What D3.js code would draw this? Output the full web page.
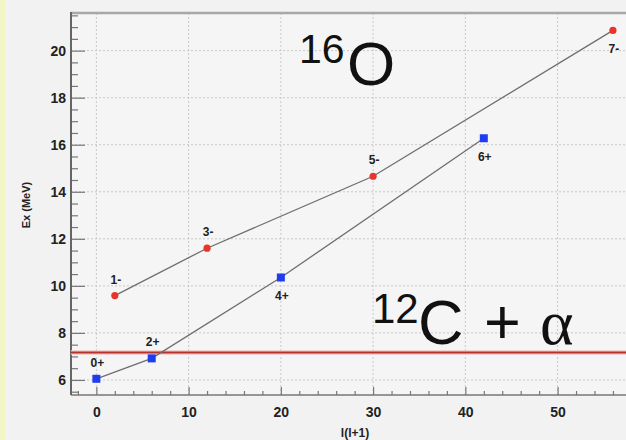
<!DOCTYPE html>
<html>
<head>
<meta charset="utf-8">
<script src="https://cdn.jsdelivr.net/npm/d3@7"></script>
<style>
  html, body { margin: 0; padding: 0; background: #f2f2f2; }
  svg { display: block; }
  .tick text { font-family: "Liberation Sans", Arial, sans-serif; font-weight: bold; fill: #222; }
</style>
</head>
<body>
<svg id="chart" width="626" height="440"></svg>
<script>
// Negative-parity band of 16O: J^pi, l(l+1), excitation energy (MeV)
const oddJ = ["1-", "3-", "5-", "7-"];
const oddX = [2, 12, 30, 56];
const oddE = [9.585, 11.60, 14.66, 20.86];

// Positive-parity band
const evenJ = ["0+", "2+", "4+", "6+"];
const evenX = [0, 6, 20, 42];
const evenE = [6.049, 6.917, 10.356, 16.275];

// Label side for each state (above / below the marker)
const oddSide = ["above", "above", "above", "below"];
const evenSide = ["above", "above", "below", "below"];

// 12C + alpha breakup threshold (MeV)
const threshold = 7.162;

// Axis ticks
const xTicks = [0, 10, 20, 30, 40, 50];
const yTicks = [6, 8, 10, 12, 14, 16, 18, 20];

const svg = d3.select("#chart");
const W = 626, H = 440;

// left edge strip
svg.append("rect").attr("x", 0).attr("y", 0).attr("width", 5).attr("height", H).attr("fill", "#f3f5c6");

const x = d3.scaleLinear().domain([-2.75, 58.5]).range([71, 636]);
const y = d3.scaleLinear().domain([5.36, 21.6]).range([395, 13]);

const [x0, x1] = x.range();
const [yb, yt] = y.range();

// plot area
svg.append("rect").attr("x", x0).attr("y", yt).attr("width", x1 - x0).attr("height", yb - yt).attr("fill", "#f5f5f5");

// dotted grid
const grid = svg.append("g").attr("stroke", "#c8c8c8").attr("stroke-width", 1).attr("stroke-dasharray", "2,2");
grid.selectAll("line.gx").data(xTicks).join("line")
  .attr("x1", d => x(d)).attr("x2", d => x(d)).attr("y1", yt).attr("y2", yb);
grid.selectAll("line.gy").data(yTicks).join("line")
  .attr("x1", x0).attr("x2", x1).attr("y1", d => y(d)).attr("y2", d => y(d));

// y axis: major + minor ticks drawn inward
const yMinor = d3.range(5.5, 21.6, 0.5).filter(v => !yTicks.includes(v));
const yAxisMinor = svg.append("g").attr("transform", `translate(${x0},0)`)
  .call(d3.axisLeft(y).tickValues(yMinor).tickSize(-7).tickFormat(""));
const yAxis = svg.append("g").attr("transform", `translate(${x0},0)`)
  .call(d3.axisLeft(y).tickValues(yTicks).tickSize(-14).tickPadding(18).tickFormat(d3.format("d")));
yAxis.selectAll(".tick text").attr("font-size", 14).attr("dx", 13);
[yAxis, yAxisMinor].forEach(g => {
  g.select(".domain").remove();
  g.selectAll(".tick line").attr("stroke", "#777").attr("stroke-width", 1.2);
});

// x axis
const xMinor = d3.range(-2, 58.5, 2).filter(v => !xTicks.includes(v));
const xAxisMinor = svg.append("g").attr("transform", `translate(0,${yb})`)
  .call(d3.axisBottom(x).tickValues(xMinor).tickSize(-4).tickFormat(""));
const xAxis = svg.append("g").attr("transform", `translate(0,${yb})`)
  .call(d3.axisBottom(x).tickValues(xTicks).tickSize(-8).tickPadding(12).tickFormat(d3.format("d")));
xAxis.selectAll(".tick text").attr("font-size", 14).attr("dy", "0.71em");
[xAxis, xAxisMinor].forEach(g => {
  g.select(".domain").remove();
  g.selectAll(".tick line").attr("stroke", "#777").attr("stroke-width", 1.2);
});

// frame lines
svg.append("line").attr("x1", x0).attr("x2", x1).attr("y1", yt).attr("y2", yt)
  .attr("stroke", "#a8a8a8").attr("stroke-width", 2.5);
svg.append("line").attr("x1", x0).attr("x2", x1).attr("y1", yb).attr("y2", yb)
  .attr("stroke", "#777").attr("stroke-width", 1.5);
svg.append("line").attr("x1", x0).attr("x2", x0).attr("y1", yt - 1).attr("y2", yb)
  .attr("stroke", "#666").attr("stroke-width", 2);

// axis titles
svg.append("text").attr("transform", "translate(30,205) rotate(-90)")
  .attr("text-anchor", "middle").attr("font-family", "Liberation Sans, Arial, sans-serif")
  .attr("font-weight", "bold").attr("font-size", 11).attr("fill", "#222").text("Ex (MeV)");
svg.append("text").attr("x", 355).attr("y", 437)
  .attr("text-anchor", "middle").attr("font-family", "Liberation Sans, Arial, sans-serif")
  .attr("font-weight", "bold").attr("font-size", 12).attr("fill", "#222").text("l(l+1)");

// threshold line
svg.append("line").attr("x1", x0).attr("x2", x1).attr("y1", y(threshold)).attr("y2", y(threshold))
  .attr("stroke", "#f0c8c8").attr("stroke-width", 4.5);
svg.append("line").attr("x1", x0).attr("x2", x1).attr("y1", y(threshold)).attr("y2", y(threshold))
  .attr("stroke", "#b8322c").attr("stroke-width", 2);

// band lines
const line = d3.line().x(d => x(d[0])).y(d => y(d[1]));
const oddPts = oddX.map((v, i) => [v, oddE[i]]);
const evenPts = evenX.map((v, i) => [v, evenE[i]]);
[oddPts, evenPts].forEach(pts => {
  svg.append("path").attr("d", line(pts)).attr("fill", "none")
    .attr("stroke", "#6e6e6e").attr("stroke-width", 1.3);
});

// markers
svg.selectAll("circle.odd").data(oddPts).join("circle")
  .attr("cx", d => x(d[0])).attr("cy", d => y(d[1])).attr("r", 3.6).attr("fill", "#e8342c");
svg.selectAll("rect.even").data(evenPts).join("rect")
  .attr("x", d => x(d[0]) - 4).attr("y", d => y(d[1]) - 4).attr("width", 8).attr("height", 8).attr("fill", "#1f3cf0");

// state labels
function labels(pts, names, sides) {
  svg.append("g").selectAll("text").data(pts).join("text")
    .attr("x", d => x(d[0]) + 1)
    .attr("y", (d, i) => y(d[1]) + (sides[i] === "above" ? -12 : 23))
    .attr("text-anchor", "middle").attr("font-family", "Liberation Sans, Arial, sans-serif")
    .attr("font-weight", "bold").attr("font-size", 12).attr("fill", "#222")
    .text((d, i) => names[i]);
}
labels(oddPts, oddJ, oddSide);
labels(evenPts, evenJ, evenSide);

// nucleus annotations
const big = svg.append("g").attr("font-family", "Liberation Sans, Arial, sans-serif").attr("fill", "#111");
big.append("text").attr("x", 299).attr("y", 63).attr("font-size", 41).text("16");
big.append("text").attr("x", 347).attr("y", 85).attr("font-size", 62).text("O");
big.append("text").attr("x", 372).attr("y", 323).attr("font-size", 42).text("12");
big.append("text").attr("x", 418).attr("y", 344).attr("font-size", 63).text("C");
big.append("text").attr("x", 484).attr("y", 344).attr("font-size", 63).text("+");
big.append("text").attr("x", 540).attr("y", 344).attr("font-size", 64)
  .attr("font-family", "Liberation Serif, Times New Roman, serif").text("α");
</script>
</body>
</html>
